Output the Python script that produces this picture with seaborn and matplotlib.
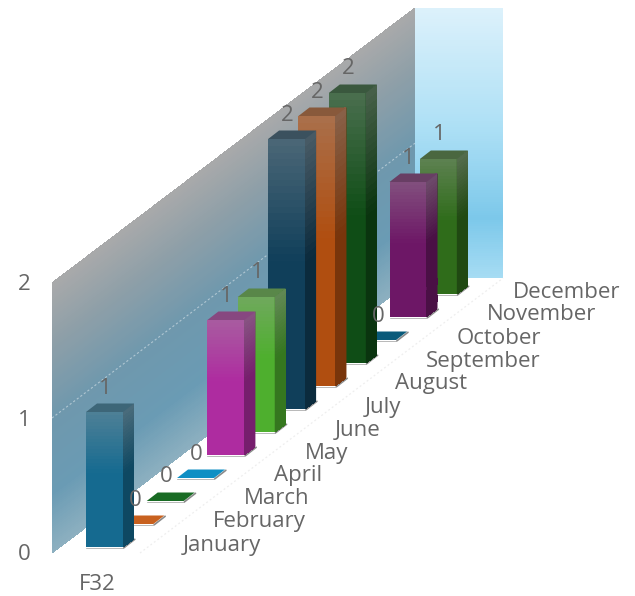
import numpy as np
import pandas as pd
import matplotlib
matplotlib.use("Agg")
import matplotlib.pyplot as plt
from matplotlib.colors import to_rgb
from matplotlib.patches import Polygon
import seaborn as sns

# Chart content
months = ["January", "February", "March", "April", "May", "June", "July",
          "August", "September", "October", "November", "December"]
counts = [1, 0, 0, 0, 1, 1, 2, 2, 2, 0, 1, 1]
month_colors = ["#156A90", "#C8611F", "#196B24", "#0F8FC4", "#AE2CA0", "#4EAF2E",
                "#103F5A", "#B04E10", "#0F4D16", "#0A5A7A", "#6D1766", "#2F6C1A"]
value_ticks = [0, 1, 2]
category_label = "F32"

# Oblique projection, in axes units (x: one month step, y: one count)
PX_W, PX_H = 635, 596
STEP_X, UNIT_Y = 30.35, 135.0
ORIGIN_X, ORIGIN_Y = 104.5, 553.0
RISE = 23.0 / UNIT_Y             # vertical climb per month of depth
BASE0 = 6.0 / UNIT_Y             # floor height of the first bar
BAR_W = 37.0 / STEP_X
DEPTH_X, DEPTH_Y = 11.0 / STEP_X, 8.5 / UNIT_Y
WALL_X0 = (52 - ORIGIN_X) / STEP_X
WALL_DX, WALL_RISE = 30.25 / STEP_X, 22.9 / UNIT_Y
N_DEPTH = 12
TOP_VALUE = 2
INK = "#666666"
FONT_SIZE = 16
EDGE_DX, EDGE_DY = 0.8 / STEP_X, 0.8 / UNIT_Y


def to_x(px):
    return (px - ORIGIN_X) / STEP_X


def to_y(py):
    return (ORIGIN_Y - py) / UNIT_Y


def wall_xy(t, v):
    return WALL_X0 + WALL_DX * t, v + WALL_RISE * t


def mix(a, b, w):
    return tuple((1 - w) * x + w * y for x, y in zip(to_rgb(a), to_rgb(b)))


def ramp(stops, n=80):
    """Linear colour ramp through (position, colour) stops."""
    pos = np.linspace(0, 1, n)
    xs = [s[0] for s in stops]
    cols = np.array([to_rgb(s[1]) for s in stops])
    return np.stack([np.interp(pos, xs, cols[:, i]) for i in range(3)], axis=1)


def shaded_quad(ax, x_low, y_low, x_high, y_high, rgb, zorder):
    """Fill a quad with a ramp running from its low edge to its high edge."""
    under = [(x_low[0], y_low[0]), (x_low[1], y_low[1]), (x_high[1], y_high[1]), (x_high[0], y_high[0])]
    ax.add_patch(Polygon(under, closed=True, facecolor=rgb[len(rgb) // 2], edgecolor="none",
                         zorder=zorder))
    n = len(rgb)
    f = np.linspace(0, 1, n + 1)[:, None]
    X = np.asarray(x_low)[None, :] * (1 - f) + np.asarray(x_high)[None, :] * f
    Y = np.asarray(y_low)[None, :] * (1 - f) + np.asarray(y_high)[None, :] * f
    C = rgb[:, None, :]
    ax.pcolormesh(X, Y, C, shading="flat", antialiased=False, linewidth=0, zorder=zorder)


def bar_ramp(color, factor=1.0):
    base = tuple(c * factor for c in to_rgb(color))
    high = mix(base, "#a0a0a0", 0.40)
    return ramp([(0, base), (0.55, base), (1, high)], 40)


sns.set_theme(style="white", rc={"font.family": ["Open Sans", "DejaVu Sans"]})
fig = plt.figure(figsize=(PX_W / 100, PX_H / 100), dpi=100)
ax = fig.add_axes([0, 0, 1, 1])

frame = pd.DataFrame({"pos": np.arange(len(months)), "count": counts, "month": months})
sns.barplot(data=frame, x="pos", y="count", hue="month", hue_order=months,
            palette=dict(zip(months, month_colors)), native_scale=True, dodge=False,
            width=BAR_W, legend=False, linewidth=0, ax=ax)

# Back wall and side panel
x0, y0 = wall_xy(0, 0)
x1, y1 = wall_xy(N_DEPTH, 0)
wall_colors = ramp([(0, "#8db0c0"), (0.22, "#6a9bb4"), (0.5, "#6f98ad"),
                    (0.78, "#8e9fa8"), (1, "#a8a9aa")], 120)
shaded_quad(ax, [x0, x1], [y0, y1], [x0, x1], [y0 + TOP_VALUE, y1 + TOP_VALUE],
            wall_colors, 1)
panel_colors = ramp([(0, "#a6dcf3"), (0.22, "#7cc8ea"), (0.55, "#acdff5"), (1, "#dcf1fb")], 120)
panel_x = to_x(503)
shaded_quad(ax, [x1, panel_x], [y1, y1], [x1, panel_x], [y1 + TOP_VALUE, y1 + TOP_VALUE],
            panel_colors, 1)

# Gridline for the middle count, and the faint floor edge
for v in value_ticks[1:-1]:
    gx, gy = zip(wall_xy(0, v), wall_xy(N_DEPTH, v))
    ax.plot(gx, gy, color="white", lw=0.8, ls=(0, (2, 2)), alpha=0.45, zorder=2)
ax.plot([to_x(140), panel_x], [to_y(553), y1], color="#eeeeee", lw=0.9,
        ls=(0, (1.5, 2)), zorder=2)

# Bars: front faces come from the bar plot, sides and caps are extruded from them
for patch in list(ax.patches):
    if not isinstance(patch, plt.Rectangle):
        continue
    m = int(round(patch.get_x() + patch.get_width() / 2))
    value = counts[m]
    color = month_colors[m]
    z = 100 - 3 * m
    base = BASE0 + RISE * m
    patch.set_y(base)
    patch.set_zorder(z)
    left, right = patch.get_x(), patch.get_x() + patch.get_width()
    top = base + value

    # Soft edges where the bar meets the floor
    ax.plot([left, right], [base - EDGE_DY, base - EDGE_DY], color="#b8b8b8", lw=0.7,
            zorder=z - 1)
    ax.plot([right + EDGE_DX, right + DEPTH_X + EDGE_DX],
            [base - EDGE_DY, base + DEPTH_Y - EDGE_DY],
            color="#8a8a8a", lw=1.2, solid_capstyle="round", zorder=z - 1)

    if value > 0:
        shaded_quad(ax, [left, right], [base, base], [left, right], [top, top],
                    bar_ramp(color), z + 1)
        shaded_quad(ax, [right, right + DEPTH_X], [base, base + DEPTH_Y],
                    [right, right + DEPTH_X], [top, top + DEPTH_Y],
                    bar_ramp(color, 0.68), z + 1)
        cap = tuple(c * 0.8 for c in mix(color, "#a0a0a0", 0.40))
    else:
        cap = to_rgb(color)
    ax.add_patch(Polygon([(left, top), (right, top), (right + DEPTH_X, top + DEPTH_Y),
                          (left + DEPTH_X, top + DEPTH_Y)], closed=True, facecolor=cap,
                         edgecolor="none", zorder=z + 1))

    # Value label above the cap
    ax.text(patch.get_x() + patch.get_width() / 2 + 0.02, top + 24 / UNIT_Y, str(value),
            ha="center", va="center", fontsize=FONT_SIZE, color=INK, zorder=200)

    # Month label on the floor, to the right of the bars
    ax.text(to_x(183) + m - (0.12 if m == 11 else 0), BASE0 + RISE * m + 2 / UNIT_Y,
            months[m], ha="left", va="center", fontsize=FONT_SIZE, color=INK, zorder=200)

# Count axis labels and the category label
for v in value_ticks:
    ax.text(to_x(24), v - 2 / UNIT_Y, str(v), ha="center", va="center", fontsize=FONT_SIZE,
            color=INK, zorder=200)
ax.text(to_x(97), to_y(584), category_label, ha="center", va="center", fontsize=FONT_SIZE,
        color=INK, zorder=200)

ax.set_xlim(to_x(0), to_x(PX_W))
ax.set_ylim(to_y(PX_H), to_y(0))
ax.axis("off")
fig.savefig("out.png", dpi=100, facecolor="white")
